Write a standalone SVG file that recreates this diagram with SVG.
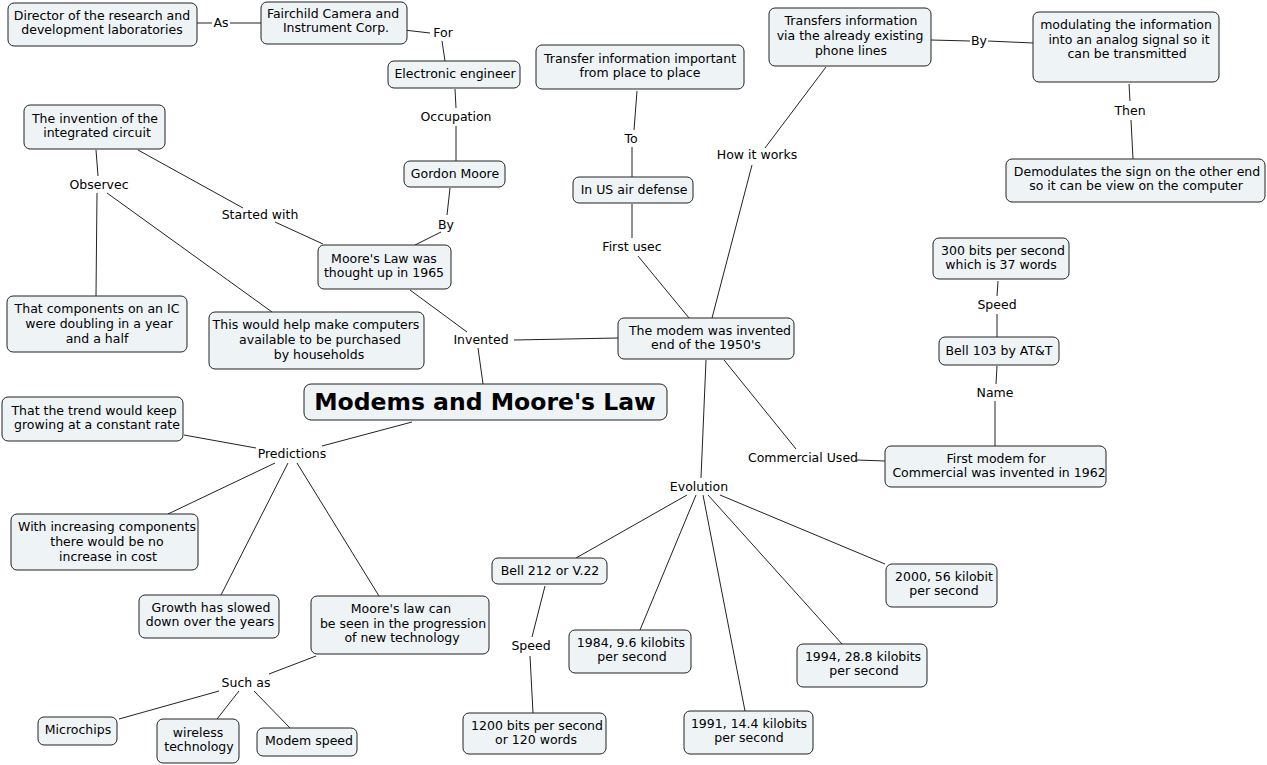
<svg xmlns="http://www.w3.org/2000/svg" width="1267" height="765" viewBox="0 0 1267 765">
<style>
.n rect{fill:#eef3f6;stroke:#222;stroke-width:1}
text{font-family:"DejaVu Sans",Verdana,sans-serif;font-size:12.5px;fill:#000;text-anchor:middle}
.t{font-weight:bold;font-size:23.5px}
.c line{stroke:#222;stroke-width:1}
</style>
<rect width="1267" height="765" fill="#fff"/>
<g class="c" id="connectors">
<line x1="197" y1="23" x2="212" y2="23"/><line x1="230" y1="23" x2="261" y2="23"/>
<line x1="404" y1="30" x2="430" y2="33"/><line x1="442" y1="41" x2="445" y2="61"/>
<line x1="455" y1="89" x2="456" y2="108"/><line x1="456" y1="126" x2="456" y2="161"/>
<line x1="450" y1="188" x2="447" y2="215"/><line x1="441" y1="232" x2="415" y2="245"/>
<line x1="138" y1="150" x2="243" y2="208"/><line x1="275" y1="222" x2="323" y2="244"/>
<line x1="96" y1="150" x2="98" y2="176"/><line x1="97" y1="193" x2="96" y2="296"/>
<line x1="107" y1="193" x2="272" y2="312"/>
<line x1="410" y1="290" x2="467" y2="332"/><line x1="514" y1="340" x2="618" y2="338"/><line x1="478" y1="348" x2="483" y2="384"/>
<line x1="412" y1="422" x2="322" y2="446"/><line x1="184" y1="435" x2="256" y2="448"/>
<line x1="275" y1="463" x2="168" y2="514"/><line x1="288" y1="463" x2="221" y2="595"/><line x1="297" y1="463" x2="379" y2="596"/>
<line x1="316" y1="656" x2="269" y2="674"/><line x1="219" y1="691" x2="119" y2="719"/><line x1="239" y1="691" x2="217" y2="719"/><line x1="254" y1="691" x2="290" y2="728"/>
<line x1="637" y1="91" x2="634" y2="130"/><line x1="632" y1="147" x2="632" y2="177"/>
<line x1="632" y1="204" x2="632" y2="238"/><line x1="638" y1="256" x2="689" y2="318"/>
<line x1="826" y1="67" x2="765" y2="148"/><line x1="752" y1="165" x2="712" y2="318"/>
<line x1="931" y1="40" x2="970" y2="41"/><line x1="988" y1="41" x2="1033" y2="43"/>
<line x1="1129" y1="84" x2="1130" y2="101"/><line x1="1131" y1="120" x2="1133" y2="159"/>
<line x1="998" y1="281" x2="997" y2="296"/><line x1="997" y1="314" x2="997" y2="337"/>
<line x1="997" y1="366" x2="996" y2="384"/><line x1="995" y1="401" x2="995" y2="446"/>
<line x1="724" y1="360" x2="796" y2="449"/><line x1="857" y1="460" x2="885" y2="461"/>
<line x1="706" y1="360" x2="701" y2="478"/>
<line x1="687" y1="495" x2="576" y2="558"/><line x1="696" y1="495" x2="640" y2="630"/><line x1="703" y1="495" x2="745" y2="711"/><line x1="708" y1="495" x2="842" y2="644"/><line x1="720" y1="495" x2="885" y2="564"/>
<line x1="545" y1="586" x2="532" y2="637"/><line x1="530" y1="656" x2="533" y2="713"/>
</g>
<g id="labels">
<text x="221" y="27">As</text>
<text x="443" y="37">For</text>
<text x="456" y="121">Occupation</text>
<text x="446" y="229">By</text>
<text x="99" y="189">Observec</text>
<text x="260" y="219">Started with</text>
<text x="481" y="344">Invented</text>
<text x="292" y="458">Predictions</text>
<text x="246" y="687">Such as</text>
<text x="631" y="143">To</text>
<text x="757" y="159">How it works</text>
<text x="632" y="251">First usec</text>
<text x="979" y="45">By</text>
<text x="1130" y="115">Then</text>
<text x="997" y="309">Speed</text>
<text x="995" y="397">Name</text>
<text x="803" y="462">Commercial Used</text>
<text x="699" y="491">Evolution</text>
<text x="531" y="650">Speed</text>
</g>
<g class="n" id="n-director"><rect x="8" y="3" width="189" height="43" rx="6"/><text x="102" y="20">Director of the research and</text><text x="102" y="34">development laboratories</text></g>
<g class="n" id="n-fairchild"><rect x="261" y="2" width="146" height="42" rx="6"/><text x="333" y="18">Fairchild Camera and</text><text x="336" y="32">Instrument Corp.</text></g>
<g class="n" id="n-engineer"><rect x="388" y="61" width="132" height="27" rx="6"/><text x="455" y="78">Electronic engineer</text></g>
<g class="n" id="n-gordon"><rect x="404" y="161" width="101" height="26" rx="6"/><text x="455" y="178">Gordon Moore</text></g>
<g class="n" id="n-mooreslaw"><rect x="318" y="245" width="133" height="44" rx="6"/><text x="384" y="263">Moore's Law was</text><text x="384" y="277">thought up in 1965</text></g>
<g class="n" id="n-ic"><rect x="24" y="105" width="141" height="44" rx="6"/><text x="95" y="123">The invention of the</text><text x="97" y="137">integrated circuit</text></g>
<g class="n" id="n-components"><rect x="7" y="296" width="180" height="56" rx="6"/><text x="97" y="313">That components on an IC</text><text x="99" y="328">were doubling in a year</text><text x="97" y="343">and a half</text></g>
<g class="n" id="n-households"><rect x="209" y="312" width="215" height="57" rx="6"/><text x="316" y="329">This would help make computers</text><text x="320" y="344">available to be purchased</text><text x="319" y="359">by households</text></g>
<g class="n" id="n-title"><rect x="304" y="384" width="363" height="36" rx="7"/><text class="t" x="485" y="410">Modems and Moore's Law</text></g>
<g class="n" id="n-trend"><rect x="2" y="397" width="181" height="44" rx="6"/><text x="94" y="415">That the trend would keep</text><text x="97" y="429">growing at a constant rate</text></g>
<g class="n" id="n-cost"><rect x="11" y="514" width="187" height="56" rx="6"/><text x="107" y="531">With increasing components</text><text x="107" y="546">there would be no</text><text x="108" y="561">increase in cost</text></g>
<g class="n" id="n-growth"><rect x="139" y="595" width="140" height="43" rx="6"/><text x="211" y="612">Growth has slowed</text><text x="210" y="626">down over the years</text></g>
<g class="n" id="n-progression"><rect x="311" y="596" width="178" height="58" rx="6"/><text x="401" y="613">Moore's law can</text><text x="403" y="628">be seen in the progression</text><text x="402" y="642">of new technology</text></g>
<g class="n" id="n-microchips"><rect x="38" y="717" width="79" height="28" rx="6"/><text x="78" y="734">Microchips</text></g>
<g class="n" id="n-wireless"><rect x="157" y="719" width="82" height="44" rx="6"/><text x="198" y="737">wireless</text><text x="199" y="751">technology</text></g>
<g class="n" id="n-modemspeed"><rect x="257" y="728" width="100" height="28" rx="6"/><text x="309" y="745">Modem speed</text></g>
<g class="n" id="n-transfer"><rect x="536" y="45" width="208" height="44" rx="6"/><text x="640" y="63">Transfer information important</text><text x="640" y="77">from place to place</text></g>
<g class="n" id="n-airdefense"><rect x="573" y="177" width="120" height="26" rx="6"/><text x="634" y="194">In US air defense</text></g>
<g class="n" id="n-phonelines"><rect x="769" y="8" width="162" height="58" rx="6"/><text x="851" y="25">Transfers information</text><text x="850" y="40">via the already existing</text><text x="851" y="55">phone lines</text></g>
<g class="n" id="n-modulating"><rect x="1033" y="12" width="186" height="70" rx="6"/><text x="1126" y="29">modulating the information</text><text x="1129" y="44">into an analog signal so it</text><text x="1127" y="58">can be transmitted</text></g>
<g class="n" id="n-demodulates"><rect x="1006" y="159" width="259" height="43" rx="6"/><text x="1137" y="176">Demodulates the sign on the other end</text><text x="1136" y="190">so it can be view on the computer</text></g>
<g class="n" id="n-modem"><rect x="618" y="318" width="176" height="41" rx="6"/><text x="710" y="335">The modem was invented</text><text x="706" y="349">end of the 1950's</text></g>
<g class="n" id="n-300bits"><rect x="933" y="238" width="136" height="41" rx="6"/><text x="1003" y="255">300 bits per second</text><text x="1001" y="269">which is 37 words</text></g>
<g class="n" id="n-bell103"><rect x="939" y="337" width="120" height="28" rx="6"/><text x="999" y="355">Bell 103 by AT&amp;T</text></g>
<g class="n" id="n-firstmodem"><rect x="885" y="446" width="221" height="41" rx="6"/><text x="996" y="463">First modem for</text><text x="999" y="477">Commercial was invented in 1962</text></g>
<g class="n" id="n-bell212"><rect x="492" y="558" width="115" height="26" rx="6"/><text x="550" y="575">Bell 212 or V.22</text></g>
<g class="n" id="n-1200"><rect x="463" y="713" width="143" height="41" rx="6"/><text x="537" y="730">1200 bits per second</text><text x="536" y="744">or 120 words</text></g>
<g class="n" id="n-1984"><rect x="569" y="630" width="122" height="43" rx="6"/><text x="631" y="647">1984, 9.6 kilobits</text><text x="632" y="661">per second</text></g>
<g class="n" id="n-1991"><rect x="684" y="711" width="129" height="43" rx="6"/><text x="749" y="728">1991, 14.4 kilobits</text><text x="749" y="742">per second</text></g>
<g class="n" id="n-1994"><rect x="797" y="644" width="130" height="43" rx="6"/><text x="863" y="661">1994, 28.8 kilobits</text><text x="864" y="675">per second</text></g>
<g class="n" id="n-2000"><rect x="886" y="564" width="111" height="43" rx="6"/><text x="944" y="581">2000, 56 kilobit</text><text x="944" y="595">per second</text></g>
</svg>
